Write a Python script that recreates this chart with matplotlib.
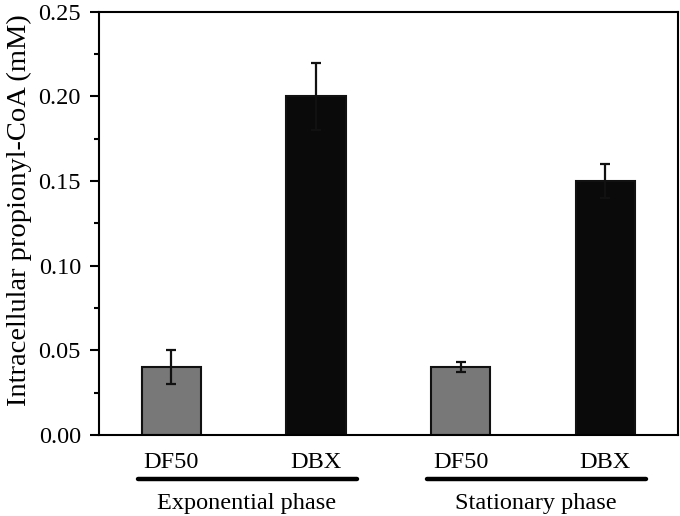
import matplotlib
matplotlib.use("Agg")
import matplotlib.pyplot as plt
from matplotlib.lines import Line2D

plt.rcParams['font.family'] = ['Liberation Serif', 'DejaVu Serif']

strains = ["DF50", "DBX", "DF50", "DBX"]
values = [0.040, 0.200, 0.040, 0.150]
errors = [0.010, 0.020, 0.003, 0.010]
bar_colors = ["#787878", "#0a0a0a", "#787878", "#0a0a0a"]
phases = ["Exponential phase", "Stationary phase"]

x = [1, 2, 3, 4]

fig = plt.figure(figsize=(6.8, 5.16), dpi=100)
ax = fig.add_axes([0.1456, 0.157, 0.851, 0.820])

ax.bar(x, values, width=0.41, color=bar_colors, edgecolor="#111111", linewidth=1.5,
       yerr=errors, error_kw=dict(ecolor="#111111", elinewidth=1.6, capsize=3.6, capthick=1.6))

ax.set_xlim(0.5, 4.5)
ax.set_ylim(0, 0.25)
ax.set_yticks([0.00, 0.05, 0.10, 0.15, 0.20, 0.25])
ax.set_yticklabels(["0.00", "0.05", "0.10", "0.15", "0.20", "0.25"])
ax.set_yticks([0.025, 0.075, 0.125, 0.175, 0.225], minor=True)
ax.tick_params(axis="y", which="major", direction="out", length=6.5, width=1.5, labelsize=17.5, pad=6.5)
ax.tick_params(axis="y", which="minor", direction="out", length=3.5, width=1.5)
ax.set_xticks([])
for s in ax.spines.values():
    s.set_linewidth(1.5)

ax.set_ylabel("Intracellular propionyl-CoA (mM)", fontsize=20.5)
ax.yaxis.set_label_coords(-0.115, 0.532)

# group labels under the axis
trans = ax.get_xaxis_transform()
for xi, name in zip(x, strains):
    ax.text(xi, -0.064, name, transform=trans, ha="center", va="center", fontsize=17.5, clip_on=False)

for i, ph in enumerate(phases):
    c = 1.5 + 2 * i
    ln = Line2D([c - 0.73, c + 0.78], [-0.104, -0.104], transform=trans, color="black",
                linewidth=3.2, solid_capstyle="round", clip_on=False)
    ax.add_line(ln)
    ax.text(c + 0.02, -0.161, ph, transform=trans, ha="center", va="center", fontsize=17.5, clip_on=False)

fig.savefig("out.png", dpi=100)
